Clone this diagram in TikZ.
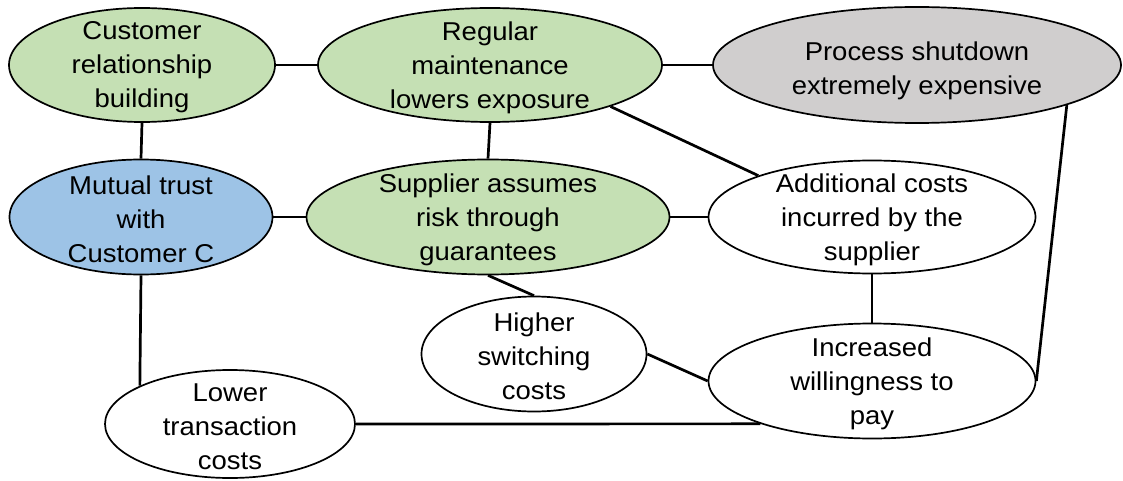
\documentclass[tikz,border=0pt]{standalone}
\usepackage{fontspec}
\setmainfont{Liberation Sans}[FakeStretch=1.065]
\usetikzlibrary{shapes.geometric}
\definecolor{leafgreen}{HTML}{C5E0B4}
\definecolor{skyblue}{HTML}{9DC3E6}
\definecolor{stonegray}{HTML}{D0CECE}
\tikzset{
  bubble/.style={ellipse, draw=black, line width=1.7pt, inner sep=0pt},
  caption/.style={align=center, inner sep=0pt, text=black, yshift=-2.5pt,
    font=\fontsize{25.8}{34}\selectfont},
  link/.style={draw=black, line width=2.7pt},
}
\begin{document}
\begin{tikzpicture}[x=1pt,y=-1pt]
\useasboundingbox (0,0) rectangle (1123,481);

% ellipses (drawn without text, so the text does not resize them)
\node[bubble, fill=leafgreen, minimum width=266pt, minimum height=114pt] (A) at (142,65) {};
\node[bubble, fill=leafgreen, minimum width=344pt, minimum height=114pt] (B) at (490,65) {};
\node[bubble, fill=stonegray, minimum width=408pt, minimum height=116pt] (C) at (917,65) {};
\node[bubble, fill=skyblue, minimum width=263pt, minimum height=115pt] (D) at (141,217) {};
\node[bubble, fill=leafgreen, minimum width=363pt, minimum height=115pt] (E) at (488,217) {};
\node[bubble, fill=white, minimum width=327pt, minimum height=113pt] (F) at (872,217) {};
\node[bubble, fill=white, minimum width=225pt, minimum height=115pt] (H) at (534,354) {};
\node[bubble, fill=white, minimum width=327pt, minimum height=115pt] (I) at (872,381) {};
\node[bubble, fill=white, minimum width=250pt, minimum height=108pt] (G) at (230,424) {};

% connectors
\draw[link] (A.east) -- (B.west);
\draw[link] (B.east) -- (C.west);
\draw[link] (A.south) -- (D.north);
\draw[link] (B.south) -- (E.north);
\draw[link] (B.-19) -- (F.160.6);
\draw[link] (C.-15.8) -- (I.east);
\draw[link] (D.east) -- (E.west);
\draw[link] (E.east) -- (F.west);
\draw[link] (E.south) -- (H.north);
\draw[link] (F.south) -- (I.north);
\draw[link] (H.east) -- (I.west);
\draw[link] (D.south) -- (G.157);
\draw[link] (G.east) -- (I.201.6);

% texts
\node[caption] (A-t) at (A) {Customer\\relationship\\building};
\node[caption] (B-t) at (B) {Regular\\maintenance\\lowers exposure};
\node[caption] (C-t) at ([yshift=-3pt]C) {Process shutdown\\extremely expensive};
\node[caption] (D-t) at (D) {Mutual trust\\with\\Customer C};
\node[caption] (E-t) at (E) {Supplier assumes\\risk through\\guarantees};
\node[caption] (F-t) at (F) {Additional costs\\incurred by the\\supplier};
\node[caption] (H-t) at (H) {Higher\\switching\\costs};
\node[caption] (I-t) at (I) {Increased\\willingness to\\pay};
\node[caption] (G-t) at (G) {Lower\\transaction\\costs};
\end{tikzpicture}
\end{document}
